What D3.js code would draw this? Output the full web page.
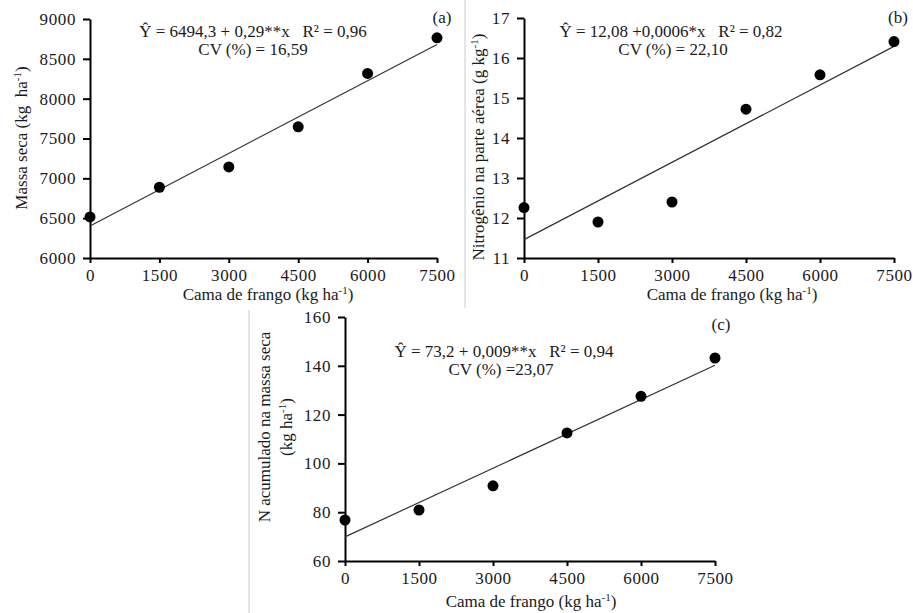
<!DOCTYPE html>
<html>
<head>
<meta charset="utf-8">
<script src="https://cdn.jsdelivr.net/npm/d3@7"></script>
<style>
  body { margin: 0; background: #fff; }
  svg { display: block; }
  svg text { white-space: pre; font-family: "Liberation Serif", "DejaVu Serif", serif !important; fill: #1a1a1a; }
  .tick text { font-size: 17px; letter-spacing: 0.6px; }
  .tick line, .domain { stroke: #000; stroke-width: 2px; }
</style>
</head>
<body>
<svg id="chart" width="913" height="613"></svg>
<script>
// doses of poultry litter (x axis), same for every panel
const doses = [0, 1500, 3000, 4500, 6000, 7500];
const xTicks = [0, 1500, 3000, 4500, 6000, 7500];

// (a) dry mass
const massaSeca = [6515, 6888, 7143, 7646, 8317, 8764];
const massaSecaFit = [6402, 8681];
const massaSecaTicks = [6000, 6500, 7000, 7500, 8000, 8500, 9000];

// (b) nitrogen in shoots
const nitrogenio = [12.26, 11.90, 12.40, 14.72, 15.58, 16.41];
const nitrogenioFit = [11.46, 16.29];
const nitrogenioTicks = [11, 12, 13, 14, 15, 16, 17];

// (c) accumulated N
const nAcumulado = [76.8, 80.9, 90.8, 112.5, 127.5, 143.2];
const nAcumuladoFit = [69.9, 140.2];
const nAcumuladoTicks = [60, 80, 100, 120, 140, 160];

const svg = d3.select("#chart");

// light separators between panels
svg.append("line").attr("x1", 465).attr("x2", 465).attr("y1", 0).attr("y2", 308)
  .attr("stroke", "#dcdcdc").attr("stroke-width", 1.5);
svg.append("line").attr("x1", 249).attr("x2", 249).attr("y1", 310).attr("y2", 613)
  .attr("stroke", "#dcdcdc").attr("stroke-width", 1.5);

/**
 * Append text made of plain and superscript pieces
 */
function richText(sel, parts) {
  parts.forEach(function(p) {
    let t = sel.append("tspan").text(p.t);
    if (p.sup) t.attr("font-size", "0.65em").attr("dy", "-0.5em");
    if (p.down) t.attr("dy", "0.33em");
  });
  return sel;
}

/**
 * Draw one scatter panel with its fitted line
 */
function drawPanel(p) {
  let g = svg.append("g");

  let xScale = d3.scaleLinear().domain([0, 7500]).range([p.left, p.right]);
  let yScale = d3.scaleLinear().domain(p.yDomain).range([p.bottom, p.top]);

  g.append("g")
    .attr("transform", `translate(0,${p.bottom})`)
    .call(d3.axisBottom(xScale).tickValues(xTicks).tickSize(5).tickSizeOuter(0).tickPadding(6).tickFormat(d3.format("d")))
    .attr("font-family", null).attr("font-size", null);

  g.append("g")
    .attr("transform", `translate(${p.left},0)`)
    .call(d3.axisLeft(yScale).tickValues(p.yTicks).tickSize(7).tickSizeOuter(0).tickPadding(7).tickFormat(d3.format("d")))
    .attr("font-family", null).attr("font-size", null);

  // fitted line
  g.append("line")
    .attr("x1", xScale(0)).attr("y1", yScale(p.fit[0]))
    .attr("x2", xScale(7500)).attr("y2", yScale(p.fit[1]))
    .attr("stroke", "#333").attr("stroke-width", 1.2);

  g.selectAll("circle.pt")
    .data(p.values)
    .enter()
    .append("circle")
      .attr("class", "pt")
      .attr("cx", (d, i) => xScale(doses[i]))
      .attr("cy", d => yScale(d))
      .attr("r", 5.5)
      .attr("fill", "#000");

  // equation
  g.append("text")
    .attr("x", p.eqX).attr("y", p.eqY)
    .attr("text-anchor", "middle")
    .attr("font-size", 17)
    .text(p.equation);
  g.append("text")
    .attr("x", p.cvX).attr("y", p.eqY + 18)
    .attr("text-anchor", "middle")
    .attr("font-size", 17)
    .text(p.cv);

  // panel letter
  g.append("text")
    .attr("x", p.letterX).attr("y", p.letterY)
    .attr("text-anchor", "middle")
    .attr("font-size", 17)
    .text(p.letter);

  // x title
  g.append("text")
    .attr("x", p.xTitleX).attr("y", p.xTitleY)
    .attr("text-anchor", "middle")
    .attr("font-size", 17)
    .call(s => richText(s, [{t: "Cama de frango (kg ha"}, {t: "-1", sup: true}, {t: ")", down: true}]));

  // y title(s)
  p.yTitles.forEach(function(yt) {
    g.append("text")
      .attr("transform", `translate(${yt.x},${yt.y}) rotate(-90)`)
      .attr("text-anchor", "middle")
      .attr("font-size", 17)
      .call(s => richText(s, yt.parts));
  });
}

drawPanel({
  left: 90, right: 437, top: 19, bottom: 258,
  yDomain: [6000, 9000], yTicks: massaSecaTicks,
  values: massaSeca, fit: massaSecaFit,
  equation: "Ŷ = 6494,3 + 0,29**x   R² = 0,96",
  cv: "CV (%) = 16,59",
  eqX: 253, cvX: 253, eqY: 37,
  letter: "(a)", letterX: 442, letterY: 23,
  xTitleX: 268, xTitleY: 300,
  yTitles: [{x: 27, y: 138, parts: [{t: "Massa seca (kg  ha"}, {t: "-1", sup: true}, {t: ")", down: true}]}]
});

drawPanel({
  left: 524, right: 894, top: 18, bottom: 258,
  yDomain: [11, 17], yTicks: nitrogenioTicks,
  values: nitrogenio, fit: nitrogenioFit,
  equation: "Ŷ = 12,08 +0,0006*x   R² = 0,82",
  cv: "CV (%) = 22,10",
  eqX: 671, cvX: 673, eqY: 37,
  letter: "(b)", letterX: 898, letterY: 23,
  xTitleX: 732, xTitleY: 300,
  yTitles: [{x: 484, y: 147, parts: [{t: "Nitrogênio na parte aérea (g kg"}, {t: "-1", sup: true}, {t: ")", down: true}]}]
});

drawPanel({
  left: 345, right: 715, top: 317, bottom: 561,
  yDomain: [60, 160], yTicks: nAcumuladoTicks,
  values: nAcumulado, fit: nAcumuladoFit,
  equation: "Ŷ = 73,2 + 0,009**x   R² = 0,94",
  cv: "CV (%) =23,07",
  eqX: 504, cvX: 501, eqY: 357,
  letter: "(c)", letterX: 721, letterY: 330,
  xTitleX: 531, xTitleY: 607,
  yTitles: [
    {x: 270, y: 427, parts: [{t: "N acumulado na massa seca"}]},
    {x: 292, y: 427, parts: [{t: "(kg ha"}, {t: "-1", sup: true}, {t: ")", down: true}]}
  ]
});
</script>
</body>
</html>
